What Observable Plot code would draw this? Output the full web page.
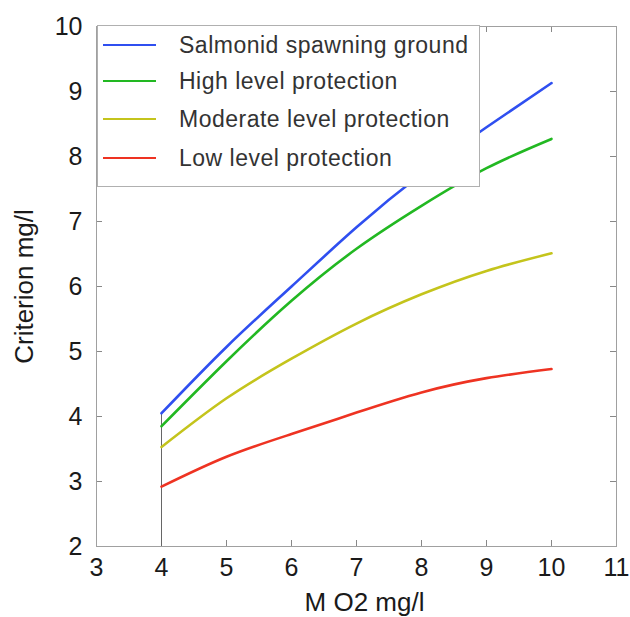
<!DOCTYPE html>
<html><head><meta charset="utf-8">
<script src="https://cdn.jsdelivr.net/npm/d3@7"></script>
<script src="https://cdn.jsdelivr.net/npm/@observablehq/plot@0.6"></script>
<style>
body{margin:0;background:#fff;}
#wrap{position:relative;width:630px;height:617px;font-family:"Liberation Sans",Arial,sans-serif;}
#legend{position:absolute;left:97px;top:25px;width:383px;height:162px;border:1px solid #b0b0b0;background:#fff;box-sizing:border-box;}
.row{position:absolute;left:0;width:100%;}
.swatch{position:absolute;left:5px;width:53px;height:2px;}
.lab{position:absolute;left:81px;font-size:23px;color:#333;white-space:nowrap;transform:translateY(-50%);letter-spacing:0.5px;}
</style></head><body><div id="wrap"></div>
<script>
const xValues = [4, 5, 6, 7, 8, 9, 10];
const seriesNames = ["Salmonid spawning ground", "High level protection", "Moderate level protection", "Low level protection"];
const salmonid = [4.05, 5.07, 6.0, 6.91, 7.73, 8.45, 9.13];
const high = [3.85, 4.85, 5.78, 6.58, 7.24, 7.82, 8.27];
const moderate = [3.53, 4.28, 4.89, 5.43, 5.88, 6.24, 6.51];
const low = [2.92, 3.38, 3.73, 4.06, 4.37, 4.59, 4.73];
const seriesColors = ["#2f4ff0", "#22b822", "#c4c41c", "#ee3322"];
const xTicks = [3, 4, 5, 6, 7, 8, 9, 10, 11];
const yTicks = [2, 3, 4, 5, 6, 7, 8, 9, 10];

const seriesValues = [salmonid, high, moderate, low];
const rows = [];
seriesNames.forEach((name, i) => {
  xValues.forEach((x, j) => rows.push({series: name, x, y: seriesValues[i][j]}));
});

const chart = Plot.plot({
  width: 630,
  height: 617,
  marginLeft: 96,
  marginRight: 14,
  marginTop: 26,
  marginBottom: 71,
  style: {fontFamily: '"Liberation Sans", Arial, sans-serif', color: "#1a1a1a", background: "#fff"},
  x: {domain: [3, 11]},
  y: {domain: [2, 10]},
  color: {domain: seriesNames, range: seriesColors},
  marks: [
    Plot.ruleX(xTicks, {x: d => d, insetTop: 514, stroke: "#888"}),
    Plot.ruleX(xTicks, {x: d => d, insetBottom: 514, stroke: "#888"}),
    Plot.ruleY(yTicks, {y: d => d, insetRight: 514, stroke: "#888"}),
    Plot.ruleY(yTicks, {y: d => d, insetLeft: 514, stroke: "#888"}),
    Plot.frame({stroke: "#a0a0a0"}),
    Plot.axisX({ticks: xTicks, tickSize: 0, tickPadding: 12, fontSize: 25, label: null}),
    Plot.axisY({ticks: yTicks, tickSize: 0, tickPadding: 14, fontSize: 25, label: null}),
    Plot.ruleX([xValues[0]], {y1: 2, y2: salmonid[0], stroke: "#666", strokeWidth: 1}),
    Plot.line(rows, {x: "x", y: "y", z: "series", stroke: "series", strokeWidth: 2.6, curve: "natural"}),
    Plot.text(["M O2 mg/l"], {frameAnchor: "bottom", lineAnchor: "middle", textAnchor: "middle", dy: 56, dx: 8, fontSize: 26, fill: "#1a1a1a"}),
    Plot.text(["Criterion mg/l"], {frameAnchor: "left", lineAnchor: "middle", textAnchor: "middle", dx: -72, rotate: -90, fontSize: 26, fill: "#1a1a1a"})
  ]
});
const wrap = document.getElementById("wrap");
wrap.appendChild(chart);

const legend = document.createElement("div");
legend.id = "legend";
const rowTops = [19, 55, 93, 132];
seriesNames.forEach((name, i) => {
  const r = document.createElement("div");
  r.className = "row";
  r.style.top = rowTops[i] + "px";
  const sw = document.createElement("div");
  sw.className = "swatch";
  sw.style.background = seriesColors[i];
  sw.style.top = "-1px";
  const lb = document.createElement("div");
  lb.className = "lab";
  lb.textContent = name;
  r.appendChild(sw); r.appendChild(lb);
  legend.appendChild(r);
});
wrap.appendChild(legend);
</script></body></html>
